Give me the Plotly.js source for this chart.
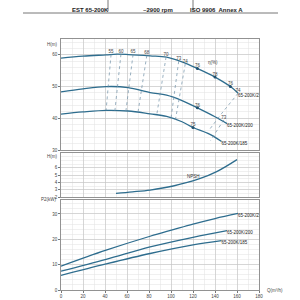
<!DOCTYPE html>
<html><head><meta charset="utf-8">
<script src="https://cdn.plot.ly/plotly-3.0.1.min.js"></script>
<style>html,body{margin:0;padding:0;background:#fff}#c{width:300px;height:300px}</style>
</head><body><div id="c"></div>
<script>
// ---- data ----
const qTicks = [0,20,40,60,80,100,120,140,160,180];
const curveNames = ['65-200K/220','65-200K/200','65-200K/185'];
// head curves
const hQ1 = [0,20,41,51,61,81,96,110,124,140,154,161];
const hH1 = [59.0,59.6,60.0,60.2,60.1,59.7,59.3,57.8,55.7,53.0,50.0,47.9];
const hQ2 = [0,20,41,61,81,96,110,124,140,151];
const hH2 = [48.3,49.3,50.0,49.7,48.1,47.3,45.6,43.3,40.5,38.3];
const hQ3 = [0,20,41,61,81,96,110,120,135,146];
const hH3 = [41.3,42.0,42.5,42.3,41.4,40.6,38.9,37.1,35.0,32.7];
// efficiency iso-lines (top point, bottom point)
const effLabels = ['55','60','65','68','70','73','74'];
const effTopQ = [45.5,54.5,65.5,78,95.5,107,113];
const effTopH = [60.1,60.2,60.1,59.8,59.3,58.0,57.2];
const effBotQ = [41,49,59,70,87,100,104];
const effBotH = [42.5,42.4,42.3,41.9,41.0,40.0,39.5];
// right side iso-lines
const effR74Q = [161,146,134];
const effR74H = [47.9,41.5,36.0];
const effR73Q = [148,141,136];
const effR73H = [39.5,35.5,33.0];
// efficiency points on curves
const ptQ = [124,140,154,161,124,148,120];
const ptH = [55.7,53.0,50.0,47.9,43.3,39.5,37.1];
const ptLbl = ['76','78','76','74','76','73','75'];
const ptMark = [true,true,true,false,true,false,true];
// NPSH
const nQ = [50,65,81,102,126,142,160];
const nH = [2.5,2.7,2.95,3.5,4.5,5.5,7.1];
// power curves
const pQ1 = [0,41,81,102,120,140,161];
const pP1 = [9.4,15.7,21.2,23.8,26.0,28.2,30.2];
const pQ2 = [0,41,81,120,151];
const pP2 = [7.4,12.1,17.0,20.8,23.4];
const pQ3 = [0,41,81,120,146];
const pP3 = [5.8,10.3,14.4,17.8,19.5];
const header = ['EST 65-200K','~2900 rpm','ISO 9906  Annex A'];

// ---- chart ----
const lc = '#2e6d8e';
const F = 'Liberation Sans, Arial, sans-serif';
const traces = [];
function line(x,y,xa,ya,w){traces.push({x:x,y:y,xaxis:xa,yaxis:ya,mode:'lines',line:{color:lc,width:w||1.3,shape:'spline'},hoverinfo:'none'});}
line(hQ1,hH1,'x','y');line(hQ2,hH2,'x','y');line(hQ3,hH3,'x','y');
for(let i=0;i<effLabels.length;i++){
  traces.push({x:[effTopQ[i],effBotQ[i]],y:[effTopH[i],effBotH[i]],xaxis:'x',yaxis:'y',mode:'lines',line:{color:'#6f8fa6',width:0.7,dash:'dot'},hoverinfo:'none'});
}
traces.push({x:effR74Q,y:effR74H,xaxis:'x',yaxis:'y',mode:'lines',line:{color:'#6f8fa6',width:0.7,dash:'dot'},hoverinfo:'none'});
traces.push({x:effR73Q,y:effR73H,xaxis:'x',yaxis:'y',mode:'lines',line:{color:'#6f8fa6',width:0.7,dash:'dot'},hoverinfo:'none'});
traces.push({x:effTopQ,y:effTopH,text:effLabels,xaxis:'x',yaxis:'y',mode:'text',textposition:'top center',textfont:{size:4.5,family:F,color:'#444'},hoverinfo:'none'});
traces.push({x:ptQ.filter((v,i)=>ptMark[i]),y:ptH.filter((v,i)=>ptMark[i]),xaxis:'x',yaxis:'y',mode:'markers',marker:{size:3,color:'#1f4f6e'},hoverinfo:'none'});
traces.push({x:ptQ,y:ptH,text:ptLbl,xaxis:'x',yaxis:'y',mode:'text',textposition:'top center',textfont:{size:4.5,family:F,color:'#444'},hoverinfo:'none'});
traces.push({x:[hQ1[hQ1.length-1],hQ2[hQ2.length-1],hQ3[hQ3.length-1]],y:[hH1[hH1.length-1],hH2[hH2.length-1],hH3[hH3.length-1]],text:curveNames,xaxis:'x',yaxis:'y',mode:'text',textposition:'bottom right',textfont:{size:4.5,family:F,color:'#222'},hoverinfo:'none'});
line(nQ,nH,'x2','y2');
traces.push({x:[nQ[4]],y:[nH[4]],text:['NPSH'],xaxis:'x2',yaxis:'y2',mode:'text',textposition:'top left',textfont:{size:4.5,family:F,color:'#333'},hoverinfo:'none'});
line(pQ1,pP1,'x3','y3');line(pQ2,pP2,'x3','y3');line(pQ3,pP3,'x3','y3');
traces.push({x:[pQ1[pQ1.length-1],pQ2[pQ2.length-1],pQ3[pQ3.length-1]],y:[pP1[pP1.length-1],pP2[pP2.length-1],pP3[pP3.length-1]],text:curveNames,xaxis:'x3',yaxis:'y3',mode:'text',textposition:'bottom right',textfont:{size:4.5,family:F,color:'#222'},hoverinfo:'none'});

const xd=[61/300,259/300];
function xa(anchor,labels){return {domain:xd,range:[0,180],anchor:anchor,tickvals:qTicks,ticktext:qTicks.map(String),showticklabels:labels,ticks:labels?'outside':'',ticklen:2,tickcolor:'#777',
  showgrid:true,gridcolor:'#c4c4c4',gridwidth:0.6,minor:{dtick:10,showgrid:true,gridcolor:'#e2e2e2',gridwidth:0.5},showline:true,mirror:true,linecolor:'#777',linewidth:0.8,zeroline:false,
  tickfont:{size:4.5,family:F,color:'#444'},fixedrange:true};}
function ya(anchor,dom,rng,tv,mdt){return {domain:dom,range:rng,anchor:anchor,tickvals:tv,ticks:'outside',ticklen:2,tickcolor:'#777',showgrid:true,gridcolor:'#c4c4c4',gridwidth:0.6,
  minor:{dtick:mdt,showgrid:true,gridcolor:'#e2e2e2',gridwidth:0.5},showline:true,mirror:true,linecolor:'#777',linewidth:0.8,zeroline:false,tickfont:{size:4.5,family:F,color:'#444'},fixedrange:true};}
const layout={width:300,height:300,margin:{l:0,r:0,t:0,b:0},paper_bgcolor:'#fff',plot_bgcolor:'#fff',showlegend:false,
  xaxis:xa('y',false),xaxis2:Object.assign(xa('y2',false),{matches:'x'}),xaxis3:Object.assign(xa('y3',true),{matches:'x'}),
  yaxis:ya('x',[1-150/300,1-39/300],[30,65],[30,40,50,60],2),
  yaxis2:ya('x2',[1-197/300,1-153/300],[2,8],[2,3,4,5,6],0.5),
  yaxis3:ya('x3',[1-290/300,1-200/300],[0,35.5],[0,10,20,30],2),
  annotations:[
    {text:header[0],x:70/300,y:1-5/300,xref:'paper',yref:'paper',showarrow:false,font:{size:6,family:F,color:'#222',weight:'bold'}},
    {text:header[1],x:158/300,y:1-5/300,xref:'paper',yref:'paper',showarrow:false,font:{size:6,family:F,color:'#222',weight:'bold'}},
    {text:header[2],x:245/300,y:1-5/300,xref:'paper',yref:'paper',showarrow:false,font:{size:6,family:F,color:'#222',weight:'bold'}},
    {text:'H(m)',x:59/300,y:1-40/300,xref:'paper',yref:'paper',xanchor:'right',showarrow:false,font:{size:4.5,family:F,color:'#444'}},
    {text:'η(%)',x:206/300,y:1-58/300,xref:'paper',yref:'paper',xanchor:'left',showarrow:false,font:{size:4.5,family:F,color:'#444'}},
    {text:'H(m)',x:59/300,y:1-156/300,xref:'paper',yref:'paper',xanchor:'right',showarrow:false,font:{size:4.5,family:F,color:'#444'}},
    {text:'P2(kW)',x:59/300,y:1-204/300,xref:'paper',yref:'paper',xanchor:'right',showarrow:false,font:{size:4.5,family:F,color:'#444'}},
    {text:'Q(m³/h)',x:265/300,y:1-295/300,xref:'paper',yref:'paper',xanchor:'left',showarrow:false,font:{size:4.5,family:F,color:'#444'}}
  ],
  shapes:[
    {type:'line',xref:'paper',yref:'paper',x0:108/300,x1:108/300,y0:1,y1:1-11/300,line:{color:'#555',width:0.8}},
    {type:'line',xref:'paper',yref:'paper',x0:193/300,x1:193/300,y0:1,y1:1-11/300,line:{color:'#555',width:0.8}},
    {type:'line',xref:'paper',yref:'paper',x0:23/300,x1:278/300,y0:1-13/300,y1:1-13/300,line:{color:'#777',width:1}}
  ]};
Plotly.newPlot('c',traces,layout,{staticPlot:true,displayModeBar:false});
</script></body></html>
